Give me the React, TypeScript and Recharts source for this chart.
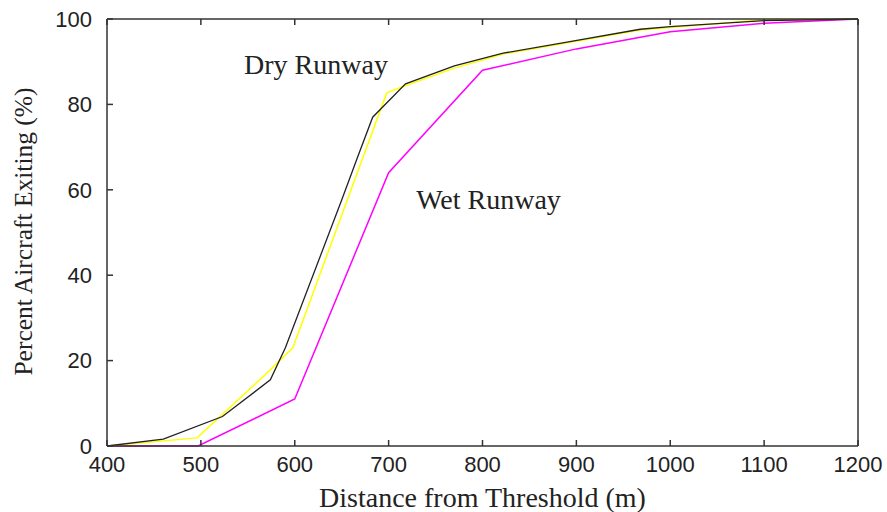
import { Line, LineChart, ReferenceDot, XAxis, YAxis } from "recharts";

const xTicks = [400, 500, 600, 700, 800, 900, 1000, 1100, 1200];
const yTicks = [0, 20, 40, 60, 80, 100];

const dryBlackX = [400, 460, 523, 574, 590, 650, 667, 683, 718, 770, 822, 890, 968, 1000, 1100, 1200];
const dryBlackY = [0, 1.6, 6.9, 15.5, 23, 57.6, 67.7, 77, 84.8, 89, 92, 94.6, 97.6, 98.2, 99.6, 100];

const dryYellowX = [400, 496, 570, 598, 698, 719, 770, 822, 968, 1000, 1100, 1200];
const dryYellowY = [0, 1.9, 17, 23, 82.7, 84.5, 88.5, 91.8, 97.4, 98, 99.8, 100];

const wetX = [400, 497, 600, 700, 800, 900, 1000, 1100, 1200];
const wetY = [0, 0, 11, 64, 88, 93, 97, 99, 100];

const toPoints = (xs: number[], ys: number[]) => xs.map((d, i) => ({ d, p: ys[i] }));

const sans = "'Liberation Sans', Arial, sans-serif";
const serif = "'Liberation Serif', 'Times New Roman', serif";
const axisColor = "#333";
const titleStyle = { fill: "#222", fontSize: 28, fontFamily: serif };

// rotated y title
const YTitle = (props: any) => {
    const vb = props.viewBox || {};
    const x = vb.x + 16;
    const y = vb.y + vb.height / 2 - 1;
    return (
        <text x={x} y={y} transform={`rotate(-90, ${x}, ${y})`} textAnchor="middle" dominantBaseline="central" style={{ ...titleStyle, fontSize: 25.5 }}>
            Percent Aircraft Exiting (%)
        </text>
    );
};

export default function App() {
    const tickStyle = { fill: "#222", fontSize: 22, fontFamily: sans };
    return (
        <div style={{ position: "absolute", left: 0, top: 0, background: "#fff" }}>
            <LineChart width={887} height={512} margin={{ top: 9, right: 19, bottom: 0, left: 7 }}>
                <XAxis
                    xAxisId={0}
                    type="number"
                    dataKey="d"
                    domain={[400, 1200]}
                    ticks={xTicks}
                    allowDataOverflow
                    height={66}
                    tickSize={-6}
                    tickMargin={16}
                    tick={tickStyle}
                    stroke={axisColor}
                    strokeWidth={1.5}
                    label={{ value: "Distance from Threshold (m)", position: "insideBottom", offset: 5, style: titleStyle }}
                />
                <XAxis
                    xAxisId="top"
                    orientation="top"
                    type="number"
                    dataKey="d"
                    domain={[400, 1200]}
                    ticks={xTicks}
                    allowDataOverflow
                    height={10}
                    tickSize={-6}
                    tickFormatter={() => ""}
                    stroke={axisColor}
                    strokeWidth={1.5}
                />
                <YAxis
                    yAxisId={0}
                    type="number"
                    domain={[0, 100]}
                    ticks={yTicks}
                    width={100}
                    tickSize={-6}
                    tickMargin={21}
                    tick={tickStyle}
                    stroke={axisColor}
                    strokeWidth={1.5}
                    label={{ content: YTitle }}
                />
                <YAxis
                    yAxisId="right"
                    orientation="right"
                    type="number"
                    domain={[0, 100]}
                    ticks={yTicks}
                    width={10}
                    tickSize={-6}
                    tickFormatter={() => ""}
                    stroke={axisColor}
                    strokeWidth={1.5}
                />
                <Line data={toPoints(wetX, wetY)} dataKey="p" stroke="#ff00ff" strokeWidth={1.5} dot={false} isAnimationActive={false} />
                <Line data={toPoints(dryYellowX, dryYellowY)} dataKey="p" stroke="#ffff00" strokeWidth={1.5} dot={false} isAnimationActive={false} />
                <Line data={toPoints(dryBlackX, dryBlackY)} dataKey="p" stroke="#222" strokeWidth={1.3} dot={false} isAnimationActive={false} />
                <ReferenceDot x={622.6} y={89.5} r={0} fill="none" stroke="none" label={{ value: "Dry Runway", position: "center", style: titleStyle }} />
                <ReferenceDot x={806.4} y={57.8} r={0} fill="none" stroke="none" label={{ value: "Wet Runway", position: "center", style: titleStyle }} />
            </LineChart>
        </div>
    );
}
